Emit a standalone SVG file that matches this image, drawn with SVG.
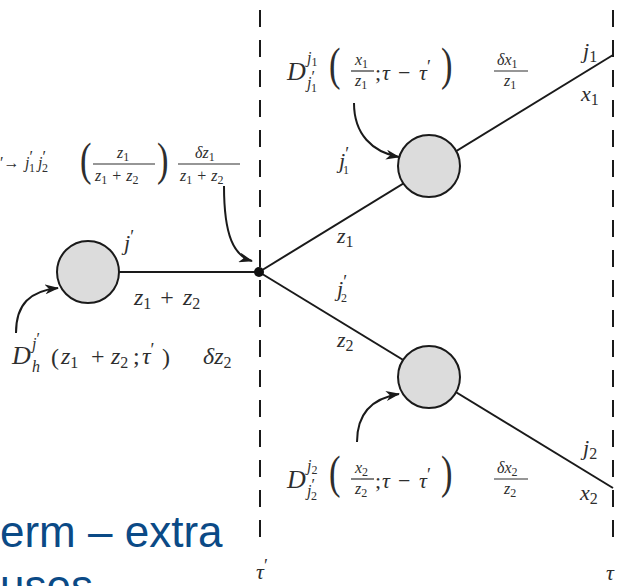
<svg xmlns="http://www.w3.org/2000/svg" width="619" height="586" viewBox="0 0 619 586">
<defs>
<style>
.m{font-family:"Liberation Serif","DejaVu Serif",serif;font-style:italic;fill:#2e2e2e}
.r{font-family:"Liberation Serif","DejaVu Serif",serif;font-style:normal;fill:#2e2e2e}
.f26{font-size:26px}.f24{font-size:24px}.f22{font-size:22px}.f18{font-size:18px}.f16{font-size:16px}.f12{font-size:12px}
.bp{font-size:46px}
.ln{stroke:#1a1a1a;stroke-width:2;fill:none}
.dash{stroke:#1a1a1a;stroke-width:2;stroke-dasharray:17 13;fill:none}
.bar{stroke:#2e2e2e;stroke-width:1.2}
.node{fill:#dcdcdc;stroke:#1a1a1a;stroke-width:2}
.cur{stroke:#1a1a1a;stroke-width:2;fill:none;marker-end:url(#ah)}
.blue{font-family:"Liberation Sans",Arial,sans-serif;font-size:44px;fill:#0b4a86}
</style>
<marker id="ah" viewBox="0 0 14 10" refX="13" refY="5" markerWidth="14" markerHeight="10" orient="auto" markerUnits="userSpaceOnUse">
<path d="M0,0 L14,5 L0,10 L4,5 Z" fill="#1a1a1a"/>
</marker>
</defs>
<rect width="619" height="586" fill="#ffffff"/>

<g id="time-lines">
<line class="dash" x1="260" y1="10" x2="260" y2="540"/>
<line class="dash" x1="613" y1="10" x2="613" y2="545"/>
<text class="m f22" x="256" y="579">τ<tspan class="r f18" dy="-7">′</tspan></text>
<text class="m f22" x="606" y="580">τ</text>
</g>

<g id="connectors">
<line class="ln" x1="119" y1="272" x2="259" y2="272"/>
<line class="ln" x1="259" y1="272" x2="613" y2="55"/>
<line class="ln" x1="259" y1="272" x2="613" y2="488"/>
<path class="cur" d="M354,103 C354,134 372,152 399,157"/>
<path class="cur" d="M224,186 C224,236 234,256 252,261"/>
<path class="cur" d="M16,333 C16,304 30,291 58,288"/>
<path class="cur" d="M357,442 C357,412 374,398 399,394"/>
</g>

<g id="node-hard">
<circle class="node" cx="88" cy="272" r="31"/>
<text class="m f22" x="124" y="250">j<tspan class="r f18" dy="-7">′</tspan></text>
<text class="m f24" x="134" y="305">z<tspan class="r f16" dy="4">1</tspan><tspan class="r f24" dy="-4" dx="9">+</tspan><tspan dx="9">z</tspan><tspan class="r f16" dy="4">2</tspan></text>
</g>

<g id="junction">
<circle cx="259" cy="272" r="5" fill="#111"/>
</g>

<g id="node-upper">
<circle class="node" cx="429" cy="166" r="31"/>
<text class="m f22" x="339" y="168">j<tspan class="r f18" dy="-8">′</tspan><tspan class="r f12" dx="-6" dy="14">1</tspan></text>
<text class="m f22" x="337" y="243">z<tspan class="r f16" dy="4">1</tspan></text>
<text class="m f22" x="583" y="58">j<tspan class="r f16" dy="4">1</tspan></text>
<text class="m f22" x="581" y="101">x<tspan class="r f16" dy="4">1</tspan></text>
</g>

<g id="node-lower">
<circle class="node" cx="429" cy="377" r="31"/>
<text class="m f22" x="337" y="296">j<tspan class="r f18" dy="-8">′</tspan><tspan class="r f12" dx="-6" dy="14">2</tspan></text>
<text class="m f22" x="337" y="347">z<tspan class="r f16" dy="4">2</tspan></text>
<text class="m f22" x="583" y="455">j<tspan class="r f16" dy="4">2</tspan></text>
<text class="m f22" x="580" y="500">x<tspan class="r f16" dy="4">2</tspan></text>
</g>

<g id="formula-upper">
<text class="m f26" x="287" y="80">D</text>
<text class="m f16" x="307" y="63">j<tspan class="r f12" dy="3">1</tspan></text>
<text class="m f16" x="307" y="88">j<tspan class="r f16" dy="-6">′</tspan><tspan class="r f12" dx="-4" dy="10">1</tspan></text>
<text class="r bp" transform="translate(329,80) scale(0.75,1)">(</text>
<text class="m f16" x="355" y="65">x<tspan class="r f12" dy="3">1</tspan></text>
<line class="bar" x1="351" y1="71" x2="374" y2="71"/>
<text class="m f16" x="355" y="86">z<tspan class="r f12" dy="3">1</tspan></text>
<text class="r f22" x="375" y="80">;</text>
<text class="m f22" x="382" y="80">τ</text>
<text class="r f22" x="398" y="80">−</text>
<text class="m f22" x="419" y="80">τ<tspan class="r f18" dy="-7">′</tspan></text>
<text class="r bp" transform="translate(441,80) scale(0.75,1)">)</text>
<text class="m f16" x="497" y="65">δx<tspan class="r f12" dy="3">1</tspan></text>
<line class="bar" x1="494" y1="71" x2="528" y2="71"/>
<text class="m f16" x="504" y="86">z<tspan class="r f12" dy="3">1</tspan></text>
</g>

<g id="formula-lower">
<text class="m f26" x="287" y="488">D</text>
<text class="m f16" x="307" y="471">j<tspan class="r f12" dy="3">2</tspan></text>
<text class="m f16" x="307" y="496">j<tspan class="r f16" dy="-6">′</tspan><tspan class="r f12" dx="-4" dy="10">2</tspan></text>
<text class="r bp" transform="translate(329,488) scale(0.75,1)">(</text>
<text class="m f16" x="355" y="473">x<tspan class="r f12" dy="3">2</tspan></text>
<line class="bar" x1="351" y1="479" x2="374" y2="479"/>
<text class="m f16" x="355" y="494">z<tspan class="r f12" dy="3">2</tspan></text>
<text class="r f22" x="375" y="488">;</text>
<text class="m f22" x="382" y="488">τ</text>
<text class="r f22" x="398" y="488">−</text>
<text class="m f22" x="419" y="488">τ<tspan class="r f18" dy="-7">′</tspan></text>
<text class="r bp" transform="translate(441,488) scale(0.75,1)">)</text>
<text class="m f16" x="497" y="473">δx<tspan class="r f12" dy="3">2</tspan></text>
<line class="bar" x1="494" y1="479" x2="528" y2="479"/>
<text class="m f16" x="504" y="494">z<tspan class="r f12" dy="3">2</tspan></text>
</g>

<g id="formula-split">
<text class="r f16" x="0" y="168">′→</text>
<text class="m f16" x="25" y="168">j<tspan class="r f16" dy="-6">′</tspan><tspan class="r f12" dx="-4" dy="10">1</tspan><tspan class="m f16" dy="-4" dx="3">j</tspan><tspan class="r f16" dy="-6">′</tspan><tspan class="r f12" dx="-4" dy="10">2</tspan></text>
<text class="r bp" transform="translate(80,175) scale(0.75,1)">(</text>
<text class="m f16" x="117" y="158">z<tspan class="r f12" dy="3">1</tspan></text>
<line class="bar" x1="93" y1="164" x2="155" y2="164"/>
<text class="m f16" x="95" y="181">z<tspan class="r f12" dy="3">1</tspan><tspan class="r f16" dy="-3" dx="5">+</tspan><tspan class="m f16" dx="5">z</tspan><tspan class="r f12" dy="3">2</tspan></text>
<text class="r bp" transform="translate(157,175) scale(0.75,1)">)</text>
<text class="m f16" x="195" y="158">δz<tspan class="r f12" dy="3">1</tspan></text>
<line class="bar" x1="178" y1="164" x2="240" y2="164"/>
<text class="m f16" x="180" y="181">z<tspan class="r f12" dy="3">1</tspan><tspan class="r f16" dy="-3" dx="5">+</tspan><tspan class="m f16" dx="5">z</tspan><tspan class="r f12" dy="3">2</tspan></text>
</g>

<g id="formula-hard">
<text class="m f26" x="12" y="364">D</text>
<text class="m f16" x="32" y="349">j<tspan class="r f16" dy="-5">′</tspan></text>
<text class="m f16" x="32" y="372">h</text>
<text class="r f24" x="51" y="365">(</text>
<text class="m f24" x="61" y="364">z<tspan class="r f16" dy="4">1</tspan></text>
<text class="r f24" x="91" y="364">+</text>
<text class="m f24" x="111" y="364">z<tspan class="r f16" dy="4">2</tspan></text>
<text class="r f24" x="133" y="364">;</text>
<text class="m f24" x="142" y="364">τ<tspan class="r f18" dy="-8">′</tspan></text>
<text class="r f24" x="162" y="365">)</text>
<text class="m f24" x="203" y="364">δz<tspan class="r f16" dy="4">2</tspan></text>
</g>

<g id="caption">
<text class="blue" x="0" y="547">erm – extra</text>
<text class="blue" x="0" y="601">uses</text>
</g>
</svg>
